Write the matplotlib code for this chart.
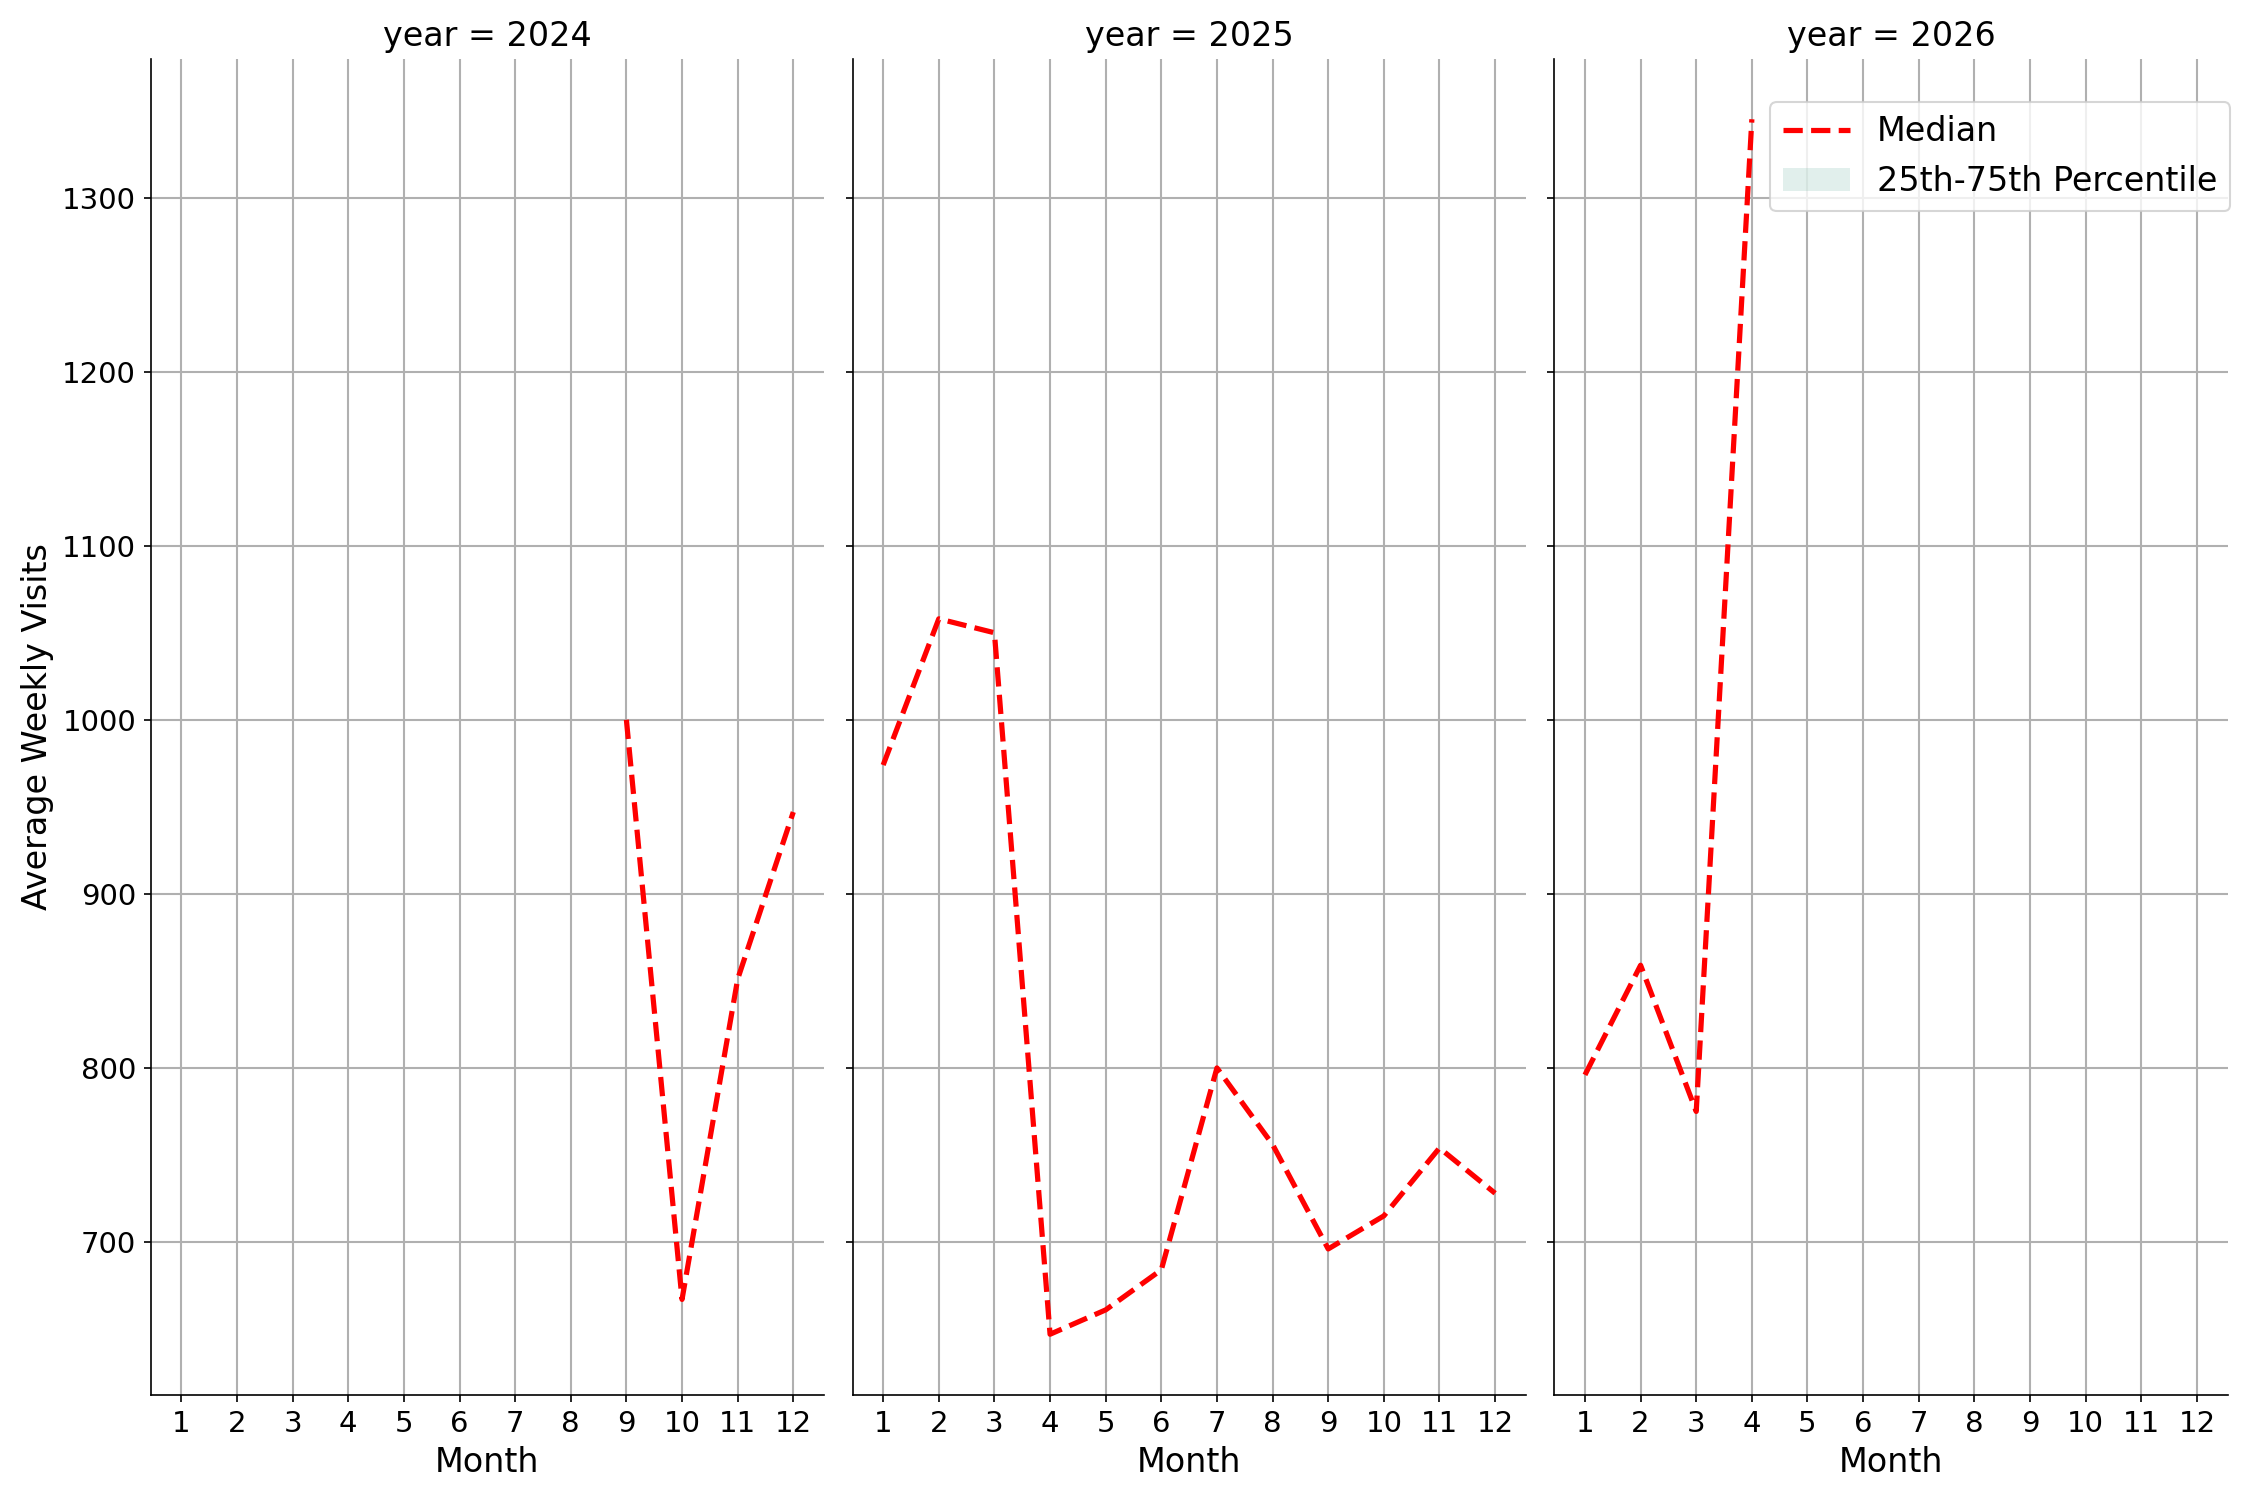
import numpy as np
import pandas as pd
import matplotlib
matplotlib.use("Agg")
import matplotlib.pyplot as plt
from matplotlib.patches import Patch

# === Data ===
years = [2024, 2025, 2026]
months_2024 = [9, 10, 11, 12]
median_2024 = [1000, 667, 851, 947]
months_2025 = [1, 2, 3, 4, 5, 6, 7, 8, 9, 10, 11, 12]
median_2025 = [974, 1058, 1050, 647, 661, 684, 800, 756, 696, 715, 754, 728]
months_2026 = [1, 2, 3, 4]
median_2026 = [796, 859, 775, 1345]

df = pd.concat([
    pd.DataFrame({"year": 2024, "month": months_2024, "median": median_2024}),
    pd.DataFrame({"year": 2025, "month": months_2025, "median": median_2025}),
    pd.DataFrame({"year": 2026, "month": months_2026, "median": median_2026}),
])

# === Plot ===
fig, axes = plt.subplots(1, 3, figsize=(15, 10), dpi=150, sharey=True)
fig.subplots_adjust(left=0.067, right=0.99, top=0.961, bottom=0.07, wspace=0.0426)

for ax, yr in zip(axes, years):
    sub = df[df["year"] == yr]
    ax.plot(sub["month"], sub["median"], color="red", linestyle="--", linewidth=2.5)
    ax.set_title(f"year = {yr}", fontsize=16)
    ax.set_xticks(range(1, 13))
    ax.set_xlim(0.45, 12.55)
    ax.grid(True, color="#b0b0b0", linewidth=1)
    ax.set_axisbelow(True)
    ax.set_xlabel("Month", fontsize=16)
    ax.tick_params(labelsize=14)
    ax.spines["top"].set_visible(False)
    ax.spines["right"].set_visible(False)
    ax.tick_params(axis="y", labelleft=(ax is axes[0]))

axes[0].set_ylabel("Average Weekly Visits", fontsize=16)
axes[0].set_yticks([700, 800, 900, 1000, 1100, 1200, 1300])

handles = [
    plt.Line2D([0], [0], color="red", linestyle="--", linewidth=2.5),
    Patch(facecolor="#69b3a2", alpha=0.2, edgecolor="none"),
]
axes[2].legend(handles, ["Median", "25th-75th Percentile"], loc="upper right",
               bbox_to_anchor=(1.029, 0.98), fontsize=16, framealpha=0.8)

plt.savefig("out.png")
